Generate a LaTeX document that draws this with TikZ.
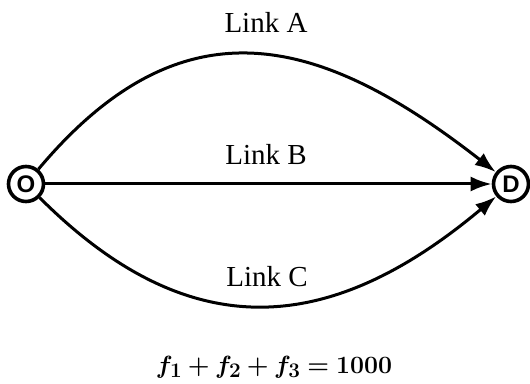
\documentclass[tikz,border=0pt]{standalone}
\usepackage{amsmath,bm}
\usepackage{fontspec}
\setmainfont{Liberation Serif}
\setsansfont{Liberation Sans}
\usetikzlibrary{arrows.meta,calc,positioning}
\tikzset{
  endpt/.style={circle,draw,line width=3.6pt,minimum size=35pt,inner sep=0pt,
    font=\fontsize{24}{24}\sffamily\bfseries},
  linklab/.style={anchor=base,font=\fontsize{29}{32}\selectfont},
  arr/.style={-{Latex[length=21pt,width=15pt]},line width=3pt}
}
\begin{document}
\begin{tikzpicture}[x=1pt,y=1pt]
  \useasboundingbox (0,0) rectangle (530,383);
  % origin and destination, three parallel links
  \node[endpt] (o) at (26,199) {O};
  \node[endpt] (d) at (511,199) {D};
  \draw[arr] (o) to[out=50,in=142,looseness=1.25] (d);
  \draw[arr] (o) -- (d);
  \draw[arr] (o) to[out=-45,in=-140,looseness=1.2] (d);
  \node[linklab] (la) at (266,350) {Link A};
  \node[linklab] (lb) at (266,218) {Link B};
  \node[linklab] (lc) at (267,96) {Link C};
  \node[anchor=base,font=\fontsize{29}{32}\selectfont] (eq) at (274,10)
    {$\bm{f_1 + f_2 + f_3 = 1000}$};
\end{tikzpicture}
\end{document}
